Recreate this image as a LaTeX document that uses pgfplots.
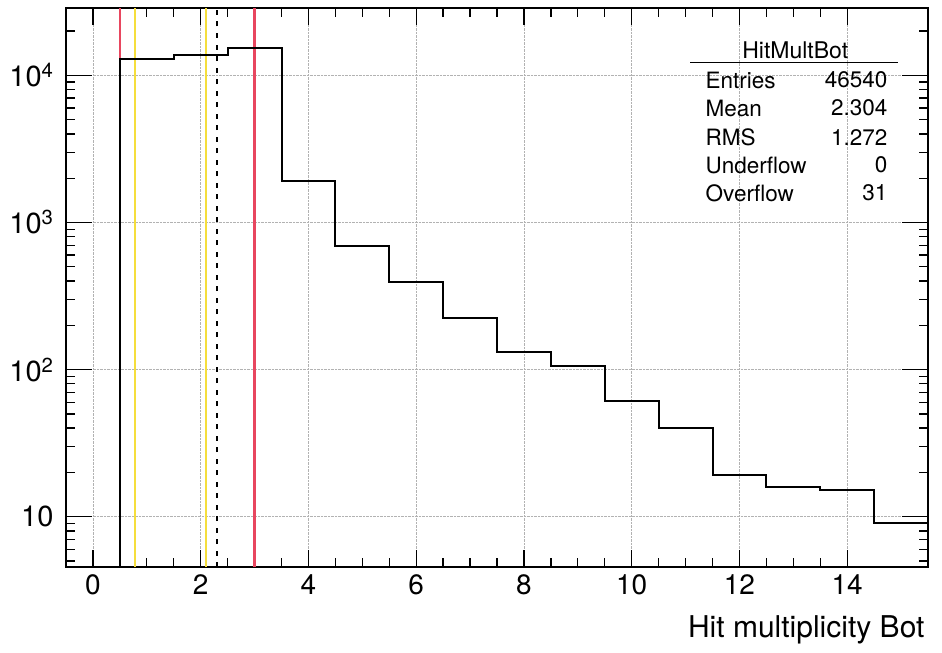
\documentclass[border=0pt]{standalone}
\usepackage{fontspec}
\setmainfont{TeX Gyre Heros}
\usepackage{pgfplots}
\pgfplotsset{compat=1.18}
\definecolor{rootred}{RGB}{232,70,95}
\definecolor{rootyellow}{RGB}{245,222,60}
\begin{document}
\begin{tikzpicture}
\begin{axis}[name=a, scale only axis, width=862pt, height=559pt,
 ymode=log, xmin=-0.5, xmax=15.5, ymin=4.55, ymax=28700,
 xtick={0,2,...,14}, minor x tick num=3,
 ytick={10,100,1000,10000},
 yticklabels={10,10\textsuperscript{2},10\textsuperscript{3},10\textsuperscript{4}},
 minor ytick={5,6,7,8,9,20,30,40,50,60,70,80,90,200,300,400,500,600,700,800,900,2000,3000,4000,5000,6000,7000,8000,9000,20000},
 tick align=inside,
 major tick length=17pt, minor tick length=9pt,
 tick style={black, line width=1.3pt},
 xmajorgrids, ymajorgrids,
 major grid style={densely dotted, gray!60, line width=0.7pt},
 axis line style={line width=1.6pt},
 /pgf/number format/assume math mode=true,
 xticklabel style={font=\fontsize{28}{30}\selectfont, yshift=-4pt},
 yticklabel style={font=\fontsize{29}{31}\selectfont, xshift=-9pt},
 xlabel={Hit multiplicity Bot},
 xlabel style={at={(axis description cs:1,-0.113)}, anchor=east, font=\fontsize{30}{32}\selectfont}]
\addplot[rootred, line width=2.5pt] coordinates {(0.5,4.55) (0.5,28700)};
\addplot[rootred, line width=2.5pt] coordinates {(3.0,4.55) (3.0,28700)};
\addplot[rootyellow, line width=2.2pt] coordinates {(0.78,4.55) (0.78,28700)};
\addplot[rootyellow, line width=2.2pt] coordinates {(2.1,4.55) (2.1,28700)};
\addplot[black, line width=2pt, dash pattern=on 5pt off 6.5pt] coordinates {(2.304,4.55) (2.304,28700)};
\addplot[black, line width=2pt, const plot] coordinates {
(0.5,1) (0.5,13000) (1.5,13700) (2.5,15300) (3.5,1905) (4.5,690) (5.5,394) (6.5,225)
(7.5,132) (8.5,106) (9.5,61) (10.5,40) (11.5,19.1) (12.5,16.0) (13.5,15.2) (14.5,9.0) (15.5,9.0)};
% longer major ticks on the y sides, as in the reference
\pgfplotsinvokeforeach{10,100,1000,10000}{
 \draw[black, line width=1.3pt] (axis cs:-0.5,#1) -- (axis cs:-0.017,#1);
 \draw[black, line width=1.3pt] (axis cs:15.5,#1) -- (axis cs:15.017,#1);
}
\node[font=\fontsize{23}{25}\selectfont] at (axis description cs:0.846,0.925) {HitMultBot};
\draw[line width=1.2pt] (axis description cs:0.724,0.902) -- (axis description cs:0.965,0.902);
\begin{scope}[every node/.style={font=\fontsize{22.5}{25}\selectfont}]
\node[anchor=west] at (axis description cs:0.738,0.871) {Entries};
\node[anchor=west] at (axis description cs:0.738,0.821) {Mean};
\node[anchor=west] at (axis description cs:0.738,0.769) {RMS};
\node[anchor=west] at (axis description cs:0.738,0.719) {Underflow};
\node[anchor=west] at (axis description cs:0.738,0.669) {Overflow};
\node[anchor=east] at (axis description cs:0.957,0.871) {46540};
\node[anchor=east] at (axis description cs:0.957,0.821) {2.304};
\node[anchor=east] at (axis description cs:0.957,0.769) {1.272};
\node[anchor=east] at (axis description cs:0.957,0.719) {0};
\node[anchor=east] at (axis description cs:0.957,0.669) {31};
\end{scope}
\end{axis}
\pgfresetboundingbox
\path ([shift={(-66pt,-85pt)}]a.south west) rectangle ([shift={(14pt,8pt)}]a.north east);
\end{tikzpicture}
\end{document}
